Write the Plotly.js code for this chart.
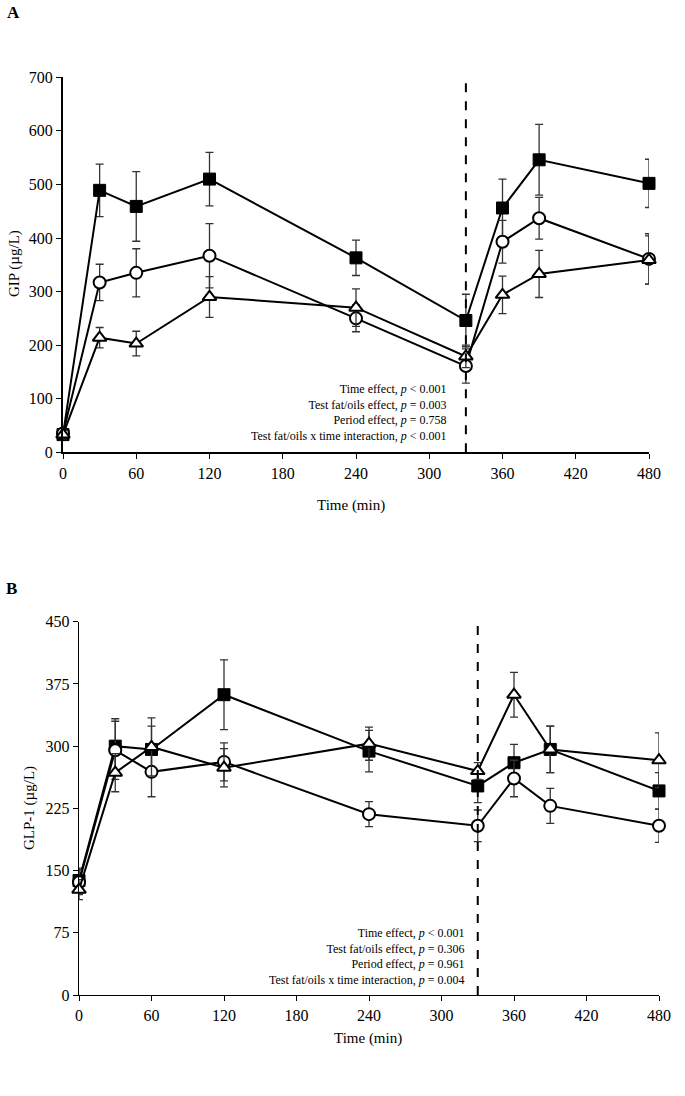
<!DOCTYPE html>
<html>
<head>
<meta charset="utf-8">
<script src="https://cdn.plot.ly/plotly-3.0.1.min.js"></script>
<style>
  html, body { margin: 0; padding: 0; background: #fff; }
  #chart { width: 685px; height: 1096px; }
</style>
</head>
<body>
<div id="chart"></div>
<script>
// Sampling times (min)
const timePoints = [0, 30, 60, 120, 240, 330, 360, 390, 480];
const xTicks = [0, 60, 120, 180, 240, 300, 360, 420, 480];

// Panel A: GIP (µg/L), mean and SEM per test fat/oil
const gipSquare    = [33, 489, 459, 510, 363, 246, 456, 546, 502];
const gipSquareErr = [8, 49, 65, 50, 33, 49, 54, 66, 45];
const gipCircle    = [35, 317, 335, 367, 250, 161, 393, 437, 361];
const gipCircleErr = [8, 34, 45, 60, 25, 32, 40, 39, 47];
const gipTriangle  = [33, 214, 203, 290, 270, 179, 294, 333, 359];
const gipTriangleErr = [8, 19, 23, 38, 35, 21, 35, 44, 45];

// Panel B: GLP-1 (µg/L)
const glpSquare    = [138, 300, 296, 362, 294, 252, 280, 296, 246];
const glpSquareErr = [15, 33, 28, 42, 25, 20, 22, 28, 22];
const glpCircle    = [136, 295, 269, 281, 218, 204, 261, 228, 204];
const glpCircleErr = [15, 35, 30, 23, 15, 19, 22, 21, 20];
const glpTriangle  = [127, 268, 299, 274, 303, 270, 362, 296, 283];
const glpTriangleErr = [12, 23, 35, 23, 20, 10, 27, 28, 33];

const gipStats = [
  'Time effect, <i>p</i> &lt; 0.001',
  'Test fat/oils effect, <i>p</i> = 0.003',
  'Period effect, <i>p</i> = 0.758',
  'Test fat/oils x time interaction, <i>p</i> &lt; 0.001'
];
const glpStats = [
  'Time effect, <i>p</i> &lt; 0.001',
  'Test fat/oils effect, <i>p</i> = 0.306',
  'Period effect, <i>p</i> = 0.961',
  'Test fat/oils x time interaction, <i>p</i> = 0.004'
];

const FONT = 'Liberation Serif, Times New Roman, serif';
const W = 685, H = 1096;

function series(y, err, kind, xa, ya) {
  const marker = {
    square:   { symbol: 'square', size: 12, color: '#000', line: { color: '#000', width: 1 } },
    circle:   { symbol: 'circle', size: 12, color: '#fff', line: { color: '#000', width: 2 } },
    triangle: { symbol: 'triangle-up', size: 12, color: '#fff', line: { color: '#000', width: 2 } }
  }[kind];
  return {
    type: 'scatter', mode: 'lines+markers',
    x: timePoints, y: y, xaxis: xa, yaxis: ya,
    line: { color: '#000', width: 2 },
    marker: marker,
    error_y: { type: 'data', array: err, visible: true, color: '#333', thickness: 1.3, width: 4 },
    cliponaxis: false, showlegend: false, hoverinfo: 'x+y'
  };
}

const traces = [
  series(gipSquare, gipSquareErr, 'square', 'x', 'y'),
  series(gipCircle, gipCircleErr, 'circle', 'x', 'y'),
  series(gipTriangle, gipTriangleErr, 'triangle', 'x', 'y'),
  series(glpSquare, glpSquareErr, 'square', 'x2', 'y2'),
  series(glpCircle, glpCircleErr, 'circle', 'x2', 'y2'),
  series(glpTriangle, glpTriangleErr, 'triangle', 'x2', 'y2')
];

function px(v) { return v / W; }
function py(v) { return (H - v) / H; }

const axisCommon = {
  showgrid: false, zeroline: false, showline: true, linecolor: '#000',
  ticks: 'outside', ticklen: 5, tickcolor: '#000',
  tickfont: { family: FONT, size: 16, color: '#000' },
  automargin: false, fixedrange: true
};

function label(text, x, y, size, angle) {
  return { text: text, xref: 'paper', yref: 'paper', x: px(x), y: py(y),
    xanchor: 'center', yanchor: 'middle', textangle: angle || 0,
    showarrow: false, font: { family: FONT, size: size, color: '#000' } };
}

const layout = {
  width: W, height: H,
  margin: { l: 0, r: 0, t: 0, b: 0 },
  paper_bgcolor: '#fff', plot_bgcolor: '#fff',
  font: { family: FONT, color: '#000' },
  xaxis: Object.assign({}, axisCommon, {
    domain: [px(63), px(649)], range: [0, 480], tickvals: xTicks, linewidth: 2, anchor: 'y'
  }),
  yaxis: Object.assign({}, axisCommon, {
    domain: [py(452.3), py(77.3)], range: [0, 700], dtick: 100, linewidth: 2, anchor: 'x'
  }),
  xaxis2: Object.assign({}, axisCommon, {
    domain: [px(79), px(659)], range: [0, 480], tickvals: xTicks, linewidth: 1.3, anchor: 'y2'
  }),
  yaxis2: Object.assign({}, axisCommon, {
    domain: [py(995), py(621.7)], range: [0, 450], dtick: 75, linewidth: 1.3, anchor: 'x2'
  }),
  shapes: [
    { type: 'line', xref: 'x', yref: 'y', x0: 330, x1: 330, y0: 0, y1: 695,
      line: { color: '#000', width: 2, dash: 'dash' } },
    { type: 'line', xref: 'x2', yref: 'y2', x0: 330, x1: 330, y0: 0, y1: 450,
      line: { color: '#000', width: 2, dash: 'dash' } }
  ],
  annotations: [
    label('<b>A</b>', 13, 13, 17),
    label('<b>B</b>', 11, 588, 17),
    label('GIP (µg/L)', 14, 264, 15, -90),
    label('Time (min)', 351, 506, 15),
    label('GLP-1 (µg/L)', 29, 808, 15, -90),
    label('Time (min)', 368, 1038, 15),
    { text: gipStats.join('<br>'), xref: 'paper', yref: 'paper', x: px(449), y: py(380),
      xanchor: 'right', yanchor: 'top', align: 'right', showarrow: false,
      font: { family: FONT, size: 12, color: '#000' } },
    { text: glpStats.join('<br>'), xref: 'paper', yref: 'paper', x: px(467), y: py(924),
      xanchor: 'right', yanchor: 'top', align: 'right', showarrow: false,
      font: { family: FONT, size: 12, color: '#000' } }
  ]
};

Plotly.newPlot('chart', traces, layout, { staticPlot: true, displayModeBar: false });
</script>
</body>
</html>
